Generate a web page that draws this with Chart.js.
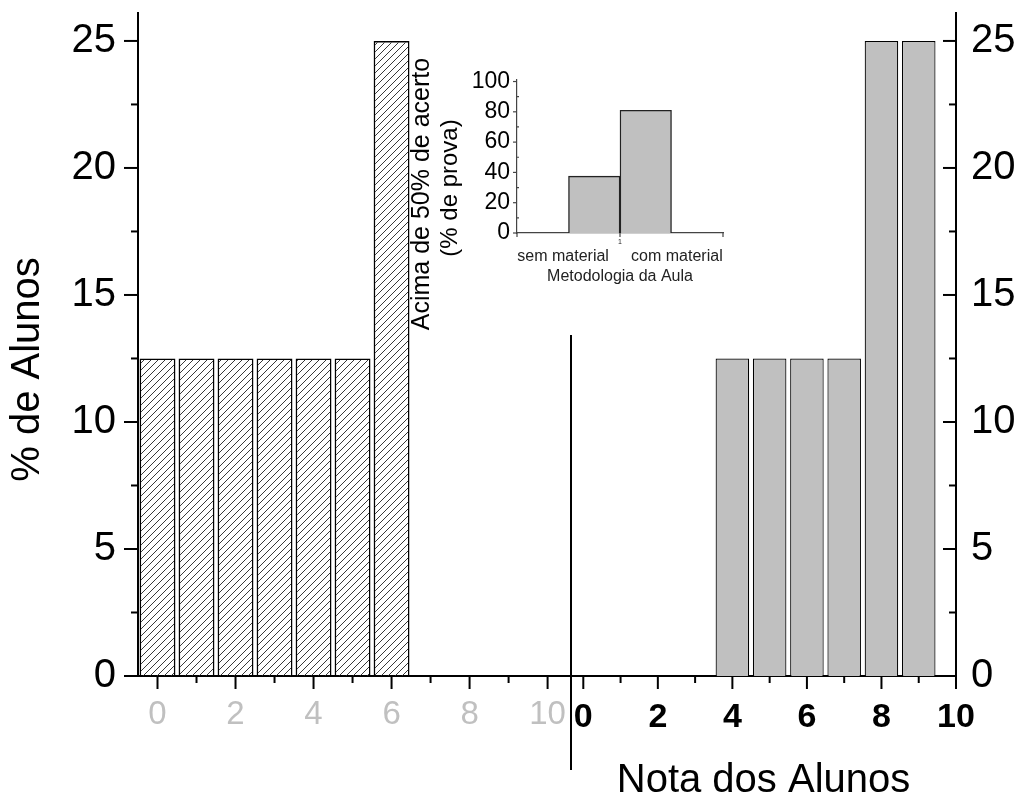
<!DOCTYPE html>
<html>
<head>
<meta charset="utf-8">
<script src="https://cdn.jsdelivr.net/npm/chart.js@4.4.1/dist/chart.umd.min.js"></script>
<style>
  html, body { margin: 0; padding: 0; background: #fff; }
  #wrap { position: relative; width: 1020px; height: 801px; overflow: hidden; }
  #wrap canvas { position: absolute; }
</style>
</head>
<body>
<div id="wrap">
  <canvas id="leftChart" width="581" height="801" style="left:0;top:0"></canvas>
  <canvas id="rightChart" width="459" height="801" style="left:561px;top:0"></canvas>
  <canvas id="insetChart" width="340" height="310" style="left:400px;top:40px"></canvas>
</div>
<script>
// data
const leftNotes = [0, 1, 2, 3, 4, 5, 6];
const leftPct = [12.5, 12.5, 12.5, 12.5, 12.5, 12.5, 25];
const rightNotes = [4, 5, 6, 7, 8, 9];
const rightPct = [12.5, 12.5, 12.5, 12.5, 25, 25];
const noteTicks = [0, 2, 4, 6, 8, 10];
const pctTicks = [0, 5, 10, 15, 20, 25];

const insetCats = ["sem material", "com material"];
const insetPos = [0.875, 1.125];
const insetPct = [37.5, 81];
const insetTicks = [0, 20, 40, 60, 80, 100];

Chart.defaults.font.family = "'Liberation Sans', Arial, sans-serif";
Chart.defaults.color = "#000";

// tick marks (major / minor) drawn from the scales
const tickMarks = {
  id: "tickMarks",
  afterDraw(chart, args, opts) {
    const { ctx, chartArea } = chart;
    ctx.save();
    (opts.marks || []).forEach(m => {
      const sc = chart.scales[m.scale];
      ctx.strokeStyle = m.color;
      ctx.lineWidth = m.width;
      const n = Math.round((m.to - m.from) / m.step);
      for (let i = 0; i <= n; i++) {
        const v = m.from + i * m.step;
        const isMajor = i % m.every === 0;
        const len = isMajor ? m.major : m.minor;
        const dir = isMajor ? m.dir : (m.minorDir ?? m.dir);
        const p = sc.getPixelForValue(v);
        ctx.beginPath();
        if (sc.isHorizontal()) {
          ctx.moveTo(p, chartArea.bottom);
          ctx.lineTo(p, chartArea.bottom + dir * len);
        } else {
          const x0 = sc.position === "right" ? chartArea.right : chartArea.left;
          ctx.moveTo(x0, p);
          ctx.lineTo(x0 + dir * len, p);
        }
        ctx.stroke();
      }
    });
    ctx.restore();
  }
};

// rotated y titles placed off the chart area centre
const sideTitles = {
  id: "sideTitles",
  afterDraw(chart, args, opts) {
    const { ctx, chartArea } = chart;
    (opts.lines || []).forEach(l => {
      ctx.save();
      ctx.translate(chartArea.left + l.dx, (chartArea.top + chartArea.bottom) / 2 + l.dy);
      ctx.rotate(-Math.PI / 2);
      ctx.font = l.font;
      ctx.fillStyle = l.color;
      ctx.textAlign = "center";
      ctx.textBaseline = "middle";
      ctx.fillText(l.text, 0, 0);
      ctx.restore();
    });
  }
};

// the vertical line splitting the two halves
const divider = {
  id: "divider",
  afterDraw(chart) {
    const { ctx, chartArea } = chart;
    ctx.save();
    ctx.strokeStyle = "#000";
    ctx.lineWidth = 2;
    ctx.beginPath();
    ctx.moveTo(chartArea.left, chartArea.bottom - 341);
    ctx.lineTo(chartArea.left, chartArea.bottom + 94);
    ctx.stroke();
    ctx.restore();
  }
};

function hatch() {
  const c = document.createElement("canvas");
  c.width = 7; c.height = 7;
  const g = c.getContext("2d");
  g.strokeStyle = "#222";
  g.lineWidth = 0.9;
  g.beginPath();
  g.moveTo(0, 7); g.lineTo(7, 0);
  g.moveTo(-1, 1); g.lineTo(1, -1);
  g.moveTo(6, 8); g.lineTo(8, 6);
  g.stroke();
  return g.createPattern(c, "repeat");
}

function fixPad(s) {
  s.paddingTop = 0; s.paddingBottom = 0; s.paddingLeft = 0; s.paddingRight = 0;
}

const axisBorder = { display: true, color: "#000", width: 2 };
const noGrid = { display: false, drawTicks: false, offset: false };

function yScale(position, pad, width) {
  return {
    type: "linear", position: position, min: 0, max: 26.1,
    grid: noGrid, border: axisBorder,
    ticks: {
      stepSize: 2.5, includeBounds: false, autoSkip: false, padding: pad,
      font: { size: 40, lineHeight: 1.2 }, color: "#000",
      callback: v => pctTicks.includes(v) ? String(v) : ""
    },
    afterFit: s => { s.width = width; fixPad(s); }
  };
}

const xMarks = { scale: "x", from: 0, to: 10, step: 1, every: 2, major: 13, minor: 7, dir: 1, color: "#000", width: 2 };

// left half: before (hatched)
new Chart(document.getElementById("leftChart"), {
  type: "bar",
  data: {
    datasets: [{
      data: leftNotes.map((n, i) => ({ x: n, y: leftPct[i] })),
      backgroundColor: hatch(),
      borderColor: "#000",
      borderWidth: 1.5,
      barPercentage: 0.92,
      categoryPercentage: 1
    }]
  },
  options: {
    responsive: false, animation: false, events: [],
    layout: { padding: { top: 13, right: 10, left: 0, bottom: 0 } },
    plugins: {
      legend: { display: false }, tooltip: { enabled: false },
      tickMarks: { marks: [
        xMarks,
        { scale: "y", from: 0, to: 25, step: 2.5, every: 2, major: 14, minor: 7, dir: -1, color: "#000", width: 2 }
      ] },
      sideTitles: { lines: [
        { text: "% de Alunos", dx: -110, dy: 25, font: "40px 'Liberation Sans', Arial, sans-serif", color: "#000" }
      ] }
    },
    scales: {
      x: {
        type: "linear", min: -0.5, max: 10.6, offset: false,
        grid: noGrid, border: axisBorder,
        ticks: {
          stepSize: 1, includeBounds: false, autoSkip: false, maxRotation: 0, padding: 19,
          font: { size: 33, lineHeight: 1.2 }, color: "#c0c0c0",
          callback: v => noteTicks.includes(v) ? String(v) : ""
        },
        afterFit: s => { s.height = 125; fixPad(s); }
      },
      y: yScale("left", 22, 138)
    }
  },
  plugins: [tickMarks, sideTitles]
});

// right half: after (grey)
new Chart(document.getElementById("rightChart"), {
  type: "bar",
  data: {
    datasets: [{
      data: rightNotes.map((n, i) => ({ x: n, y: rightPct[i] })),
      backgroundColor: "#c0c0c0",
      borderColor: "#000",
      borderWidth: 1.2,
      barPercentage: 0.9,
      categoryPercentage: 1
    }]
  },
  options: {
    responsive: false, animation: false, events: [],
    layout: { padding: { top: 13, right: 0, left: 10, bottom: 0 } },
    plugins: {
      legend: { display: false }, tooltip: { enabled: false },
      tickMarks: { marks: [
        xMarks,
        { scale: "y", from: 0, to: 25, step: 2.5, every: 2, major: 13, minor: 7, dir: -1, color: "#000", width: 2 }
      ] }
    },
    scales: {
      x: {
        type: "linear", min: -0.33, max: 10, offset: false,
        grid: noGrid, border: axisBorder,
        ticks: {
          stepSize: 1, includeBounds: false, autoSkip: false, maxRotation: 0, padding: 21,
          font: { size: 34, weight: "bold", lineHeight: 1.2 }, color: "#000",
          callback: v => noteTicks.includes(v) ? String(v) : ""
        },
        title: { display: true, text: "Nota dos Alunos", font: { size: 40, lineHeight: 1 }, color: "#000", padding: 0 },
        afterFit: s => { s.height = 125; fixPad(s); }
      },
      y: yScale("right", 15, 64)
    }
  },
  plugins: [tickMarks, divider]
});

// inset
new Chart(document.getElementById("insetChart"), {
  type: "bar",
  data: {
    datasets: [{
      data: insetPos.map((p, i) => ({ x: p, y: insetPct[i] })),
      backgroundColor: "#c0c0c0",
      borderColor: "#222",
      borderWidth: 1.4,
      barPercentage: 1,
      categoryPercentage: 1
    }]
  },
  options: {
    responsive: false, animation: false, events: [],
    layout: { padding: { top: 40, right: 17, left: 0, bottom: 50 } },
    plugins: {
      legend: { display: false }, tooltip: { enabled: false },
      tickMarks: { marks: [
        { scale: "x", from: 0.5, to: 1.5, step: 0.5, every: 1, major: 4, minor: 4, dir: 1, color: "#444", width: 1.2 },
        { scale: "y", from: 0, to: 100, step: 10, every: 2, major: 4, minor: 2, dir: -1, minorDir: 1, color: "#444", width: 1.2 }
      ] },
      sideTitles: { lines: [
        { text: "Acima de 50% de acerto", dx: -94.5, dy: 37.5, font: "25px 'Liberation Sans', Arial, sans-serif", color: "#000" },
        { text: "(% de prova)", dx: -67, dy: 31.5, font: "24px 'Liberation Sans', Arial, sans-serif", color: "#000" }
      ] }
    },
    scales: {
      x: {
        type: "linear", min: 0.5, max: 1.5, offset: false,
        grid: noGrid, border: { display: true, color: "#444", width: 1.2 },
        ticks: {
          stepSize: 0.5, includeBounds: false, autoSkip: false, maxRotation: 0, padding: 5,
          font: { size: 7 }, color: "#222",
          callback: v => v === 1 ? "1" : ""
        },
        title: {
          display: true,
          text: [insetCats.join("     "), "Metodologia da Aula"],
          font: { size: 16, lineHeight: 1.25 }, color: "#222", padding: { top: 0, bottom: 13 }
        },
        afterFit: s => { s.height = 67; fixPad(s); }
      },
      y: {
        type: "linear", min: 0, max: 101,
        grid: noGrid, border: { display: true, color: "#444", width: 1.2 },
        ticks: {
          stepSize: 10, includeBounds: false, autoSkip: false, padding: 7,
          font: { size: 23, lineHeight: 1.2 }, color: "#000",
          callback: v => insetTicks.includes(v) ? String(v) : ""
        },
        afterFit: s => { s.width = 117; fixPad(s); }
      }
    }
  },
  plugins: [tickMarks, sideTitles]
});
</script>
</body>
</html>
